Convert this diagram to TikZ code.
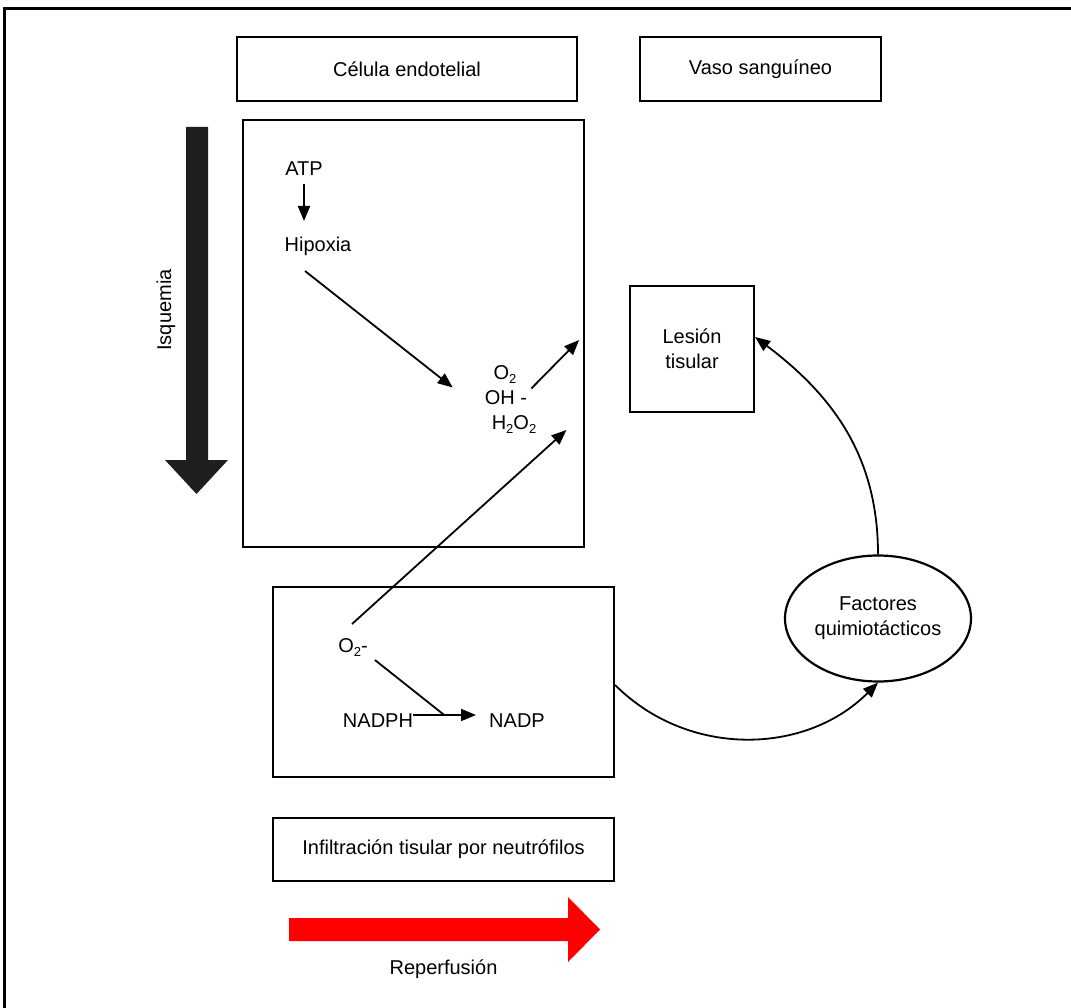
\documentclass[tikz,border=0pt]{standalone}
\usepackage{fontspec}
\setmainfont{Liberation Sans}
\usetikzlibrary{shapes.geometric, arrows.meta}
\newcommand{\lo}[1]{\raisebox{-4pt}{\fontsize{13}{13}\selectfont #1}}
\tikzstyle{box} = [rectangle, draw=black, line width=2.2pt, text centered, align=center]
\tikzstyle{bubble} = [ellipse, draw=black, line width=2.2pt, inner sep=0pt, align=center]
\tikzstyle{chem} = [inner sep=0pt, text height=17pt, text depth=2.6pt]
\tikzstyle{arrow} = [line width=1.8pt,-{Triangle[length=15pt,width=12pt]}]
\tikzstyle{link} = [line width=1.8pt]

\begin{document}
\begin{tikzpicture}[x=1pt, y=-1pt, font=\fontsize{20}{25}\selectfont]
    \useasboundingbox (0,0) rectangle (1071,1008);
    \draw [line width=3pt] (4,9) rectangle (1090,1030);

    \node (cell) [box, minimum width=340pt, minimum height=64pt] at (407,69) {Célula endotelial};
    \node (vessel) [box, minimum width=241pt, minimum height=64pt] at (760.5,69) {Vaso sanguíneo};
    \node (endo) [box, minimum width=341pt, minimum height=427pt] at (413.5,333.5) {};
    \node (neutro) [box, minimum width=341pt, minimum height=190pt] at (443.5,682) {};
    \node (infil) [box, minimum width=341pt, minimum height=63pt] at (443.5,849.5) {Infiltración tisular por neutrófilos};
    \node (lesion) [box, minimum width=124pt, minimum height=126pt] at (692,349) {Lesión\\tisular};
    \node (factors) [bubble, minimum width=186pt, minimum height=126pt] at (878,618.5) {Factores\\quimiotácticos};

    \node (atp) [chem] at (304,168) {ATP};
    \node (hip) [chem] at (318,244) {Hipoxia};
    \node (o2) [chem] at (505,372) {O\lo{2}};
    \node (oh) [chem] at (506,397) {OH -};
    \node (h2o2) [chem] at (514,422) {H\lo{2}O\lo{2}};
    \node (o2m) [chem] at (353,645) {O\lo{2}-};
    \node (nadph) [chem] at (378,720) {NADPH};
    \node (nadp) [chem] at (517,720) {NADP};

    \node (isq) [chem, rotate=90] at (164,310) {Isquemia};
    \node (rep) [chem] at (443.5,967) {Reperfusión};

    % big arrows
    \fill [black!88] (186,127) -- (208,127) -- (208,460) -- (228,460) -- (196.5,494)
        -- (165,460) -- (186,460) -- cycle;
    \fill [red] (289,918) -- (568,918) -- (568,897) -- (600,929.5) -- (568,962)
        -- (568,941) -- (289,941) -- cycle;

    \draw [arrow, shorten <=6pt, shorten >=13pt] (atp.south) -- (atp.south |- hip.north);
    \draw [arrow] ([xshift=-13pt, yshift=-17pt]hip.south) -- ([xshift=-32pt, yshift=9.5pt]oh.west);
    \draw [arrow] ([xshift=4pt, yshift=8.5pt]oh.east) -- ([xshift=-6pt, yshift=-6.5pt]endo.east);
    \draw [arrow] ([xshift=-1pt, yshift=11pt]o2m.north) -- ([xshift=30pt, yshift=-8pt]h2o2.east);
    \draw [link] ([xshift=7pt, yshift=-5pt]o2m.south east) -- ([xshift=31pt, yshift=5pt]nadph.east);
    \draw [arrow] ([yshift=5pt]nadph.east) -- ([xshift=-13pt, yshift=5pt]nadp.west);

    \draw [arrow] ([yshift=-3pt]neutro.east) to[out=-45, in=-135] (factors.south);
    \draw [arrow] (factors.north) to[out=90, in=-37] ([yshift=12pt]lesion.east);

\end{tikzpicture}
\end{document}
